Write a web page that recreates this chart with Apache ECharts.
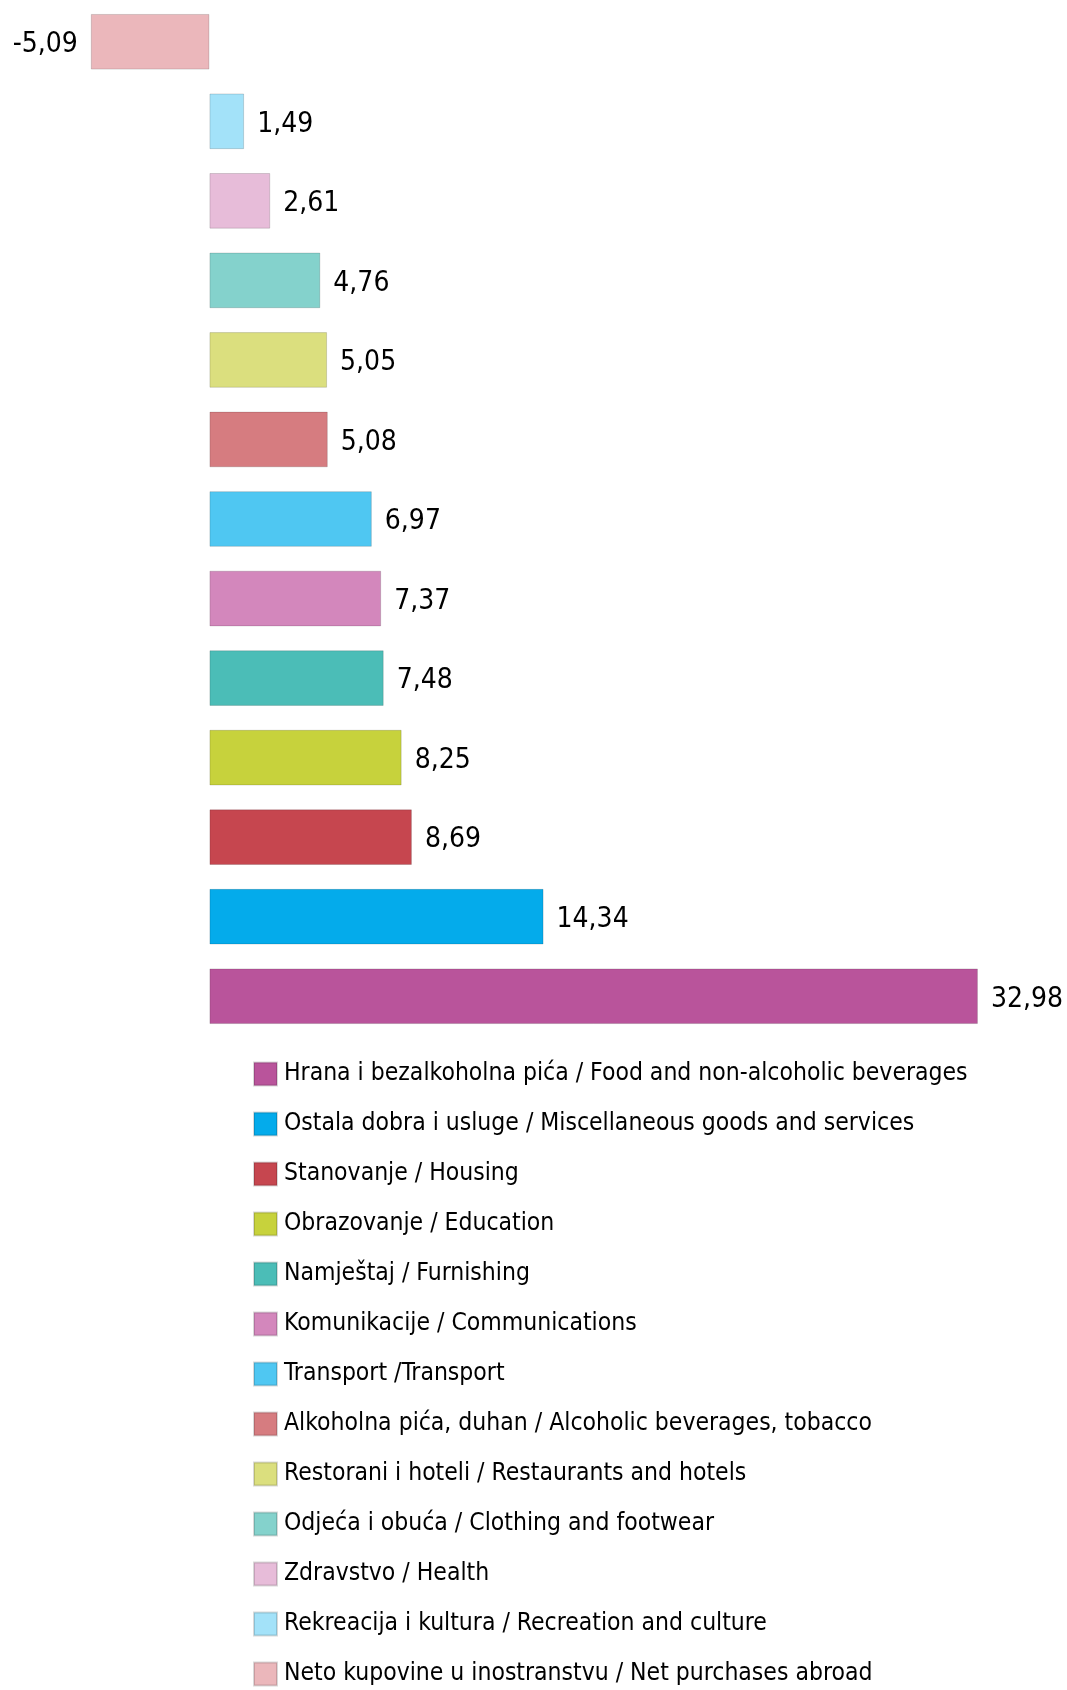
<!DOCTYPE html>
<html>
<head>
<meta charset="utf-8">
<script src="https://cdn.jsdelivr.net/npm/echarts@6/dist/echarts.min.js"></script>
<style>
  html, body { margin: 0; padding: 0; background: #fff; }
  #chart { width: 1067px; height: 1690px; }
</style>
</head>
<body>
<div id="chart"></div>
<script>
// categories, bottom bar first (same order as legend)
const categories = [
  'Hrana i bezalkoholna pića / Food and non-alcoholic beverages',
  'Ostala dobra i usluge / Miscellaneous goods and services',
  'Stanovanje / Housing',
  'Obrazovanje / Education',
  'Namještaj / Furnishing',
  'Komunikacije / Communications',
  'Transport /Transport',
  'Alkoholna pića, duhan / Alcoholic beverages, tobacco',
  'Restorani i hoteli / Restaurants and hotels',
  'Odjeća i obuća / Clothing and footwear',
  'Zdravstvo / Health',
  'Rekreacija i kultura / Recreation and culture',
  'Neto kupovine u inostranstvu / Net purchases abroad'
]
const values = [32.98, 14.34, 8.69, 8.25, 7.48, 7.37, 6.97, 5.08, 5.05, 4.76, 2.61, 1.49, -5.09]
const colors = [
  '#B9549B', '#04ABEB', '#C6464F', '#C7D23C', '#4BBDB7', '#D387BC', '#4FC7F2',
  '#D67C80', '#DBDF7E', '#84D2CC', '#E7BCD9', '#A3E2F9', '#EBB7BB'
]

const font = '"Liberation Sans Narrow", "DejaVu Sans Condensed", sans-serif'

const chart = echarts.init(document.getElementById('chart'))

const series = categories.map((name, i) => ({
  name: name,
  type: 'bar',
  stack: 'all',
  barWidth: '70%',
  itemStyle: {
    color: colors[i],
    borderColor: 'rgba(0,0,0,0.15)',
    borderWidth: 1
  },
  label: {
    show: true,
    position: values[i] < 0 ? 'left' : 'right',
    distance: 13,
    offset: [0, 3],
    color: '#000',
    fontFamily: font,
    fontSize: 28,
    formatter: p => String(p.value).replace('.', ',')
  },
  data: values.map((v, j) => (j === i ? v : '-'))
}))

chart.setOption({
  backgroundColor: '#fff',
  animation: false,
  grid: { left: 23, width: 1002, top: 2, height: 1034 },
  xAxis: {
    type: 'value',
    min: -8,
    max: 35,
    show: false
  },
  yAxis: {
    type: 'category',
    data: categories,
    show: false
  },
  legend: {
    orient: 'vertical',
    left: 253,
    top: 1060,
    padding: 0,
    icon: 'rect',
    itemWidth: 23,
    itemHeight: 23,
    itemGap: 22,
    textStyle: {
      fontFamily: font,
      fontSize: 24.5,
      lineHeight: 28,
      color: '#000',
      padding: [0, 0, 0, 2]
    },
    data: categories
  },
  series: series
})
</script>
</body>
</html>
